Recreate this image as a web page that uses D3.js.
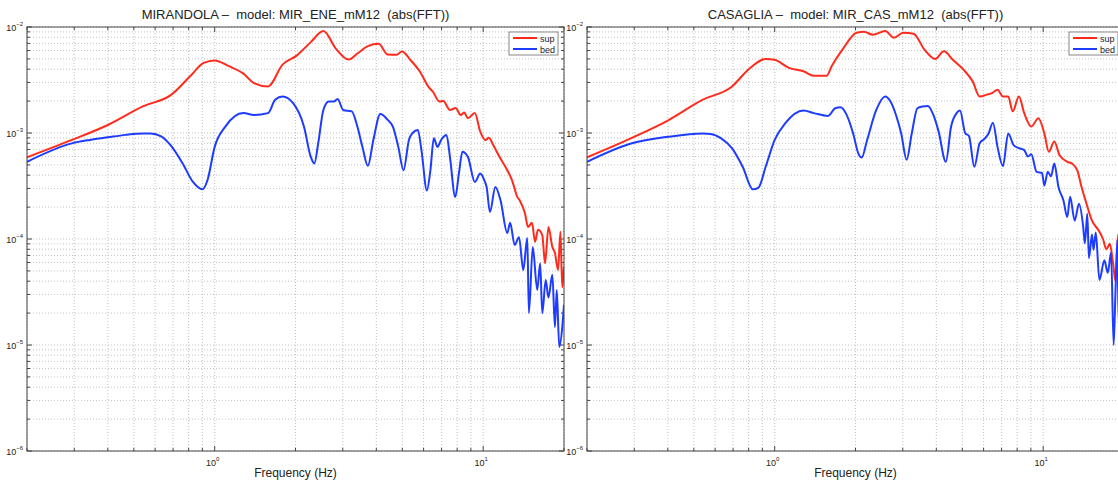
<!DOCTYPE html>
<html>
<head>
<meta charset="utf-8">
<script src="https://cdn.jsdelivr.net/npm/d3@7"></script>
<style>
  body { margin: 0; background: #fff; }
  text { font-family: "Liberation Sans", Arial, sans-serif; fill: #222; }
</style>
</head>
<body>
<svg id="chart"></svg>
<script>
// chart values: [frequency Hz, abs(FFT)]
const panelTitles = ["MIRANDOLA \u2013  model: MIR_ENE_mM12  (abs(FFT))",
                     "CASAGLIA \u2013  model: MIR_CAS_mM12  (abs(FFT))"];
const seriesNames = ["sup", "bed"];
const seriesColors = ["#ff2b1c", "#1e3cff"];
const freqDomain = [0.2, 20];
const ampDomain = [1e-6, 1e-2];
const xTickExps = [0, 1];
const yTickExps = [-2, -3, -4, -5, -6];

const mirandolaSup = [
  [0.2, 5.9e-4], [0.294, 8.6e-4], [0.40, 1.19e-3], [0.54, 1.78e-3], [0.69, 2.3e-3],
  [0.81, 3.43e-3], [0.91, 4.58e-3], [1.0, 4.83e-3], [1.13, 4.27e-3], [1.28, 3.63e-3],
  [1.40, 2.96e-3], [1.58, 2.75e-3], [1.79, 4.42e-3], [2.02, 5.37e-3], [2.28, 7.2e-3],
  [2.54, 9.16e-3], [2.83, 6.22e-3], [3.15, 4.93e-3], [3.40, 5.62e-3], [3.72, 6.6e-3],
  [4.08, 6.95e-3], [4.41, 5.5e-3], [4.76, 5.46e-3], [4.98, 5.88e-3], [5.37, 4.86e-3],
  [5.80, 3.82e-3], [6.26, 2.72e-3], [6.5, 2.45e-3], [6.87, 1.98e-3], [7.1, 2.0e-3],
  [7.52, 1.65e-3], [7.9, 1.72e-3], [8.24, 1.48e-3], [8.5, 1.56e-3], [8.77, 1.38e-3],
  [9.31, 1.54e-3], [9.75, 1.03e-3], [10.2, 8.6e-4], [10.5, 9.0e-4], [10.9, 7.7e-4],
  [11.5, 5.96e-4], [12.3, 4.45e-4], [12.8, 3.6e-4], [13.4, 2.5e-4], [13.7, 2.3e-4],
  [14.3, 1.76e-4], [14.7, 1.3e-4], [15.2, 1.42e-4], [15.6, 9.4e-5], [16.0, 1.22e-4],
  [16.6, 1.09e-4], [17.0, 5.9e-5], [17.5, 1.3e-4], [18.1, 8.4e-5], [18.5, 7.4e-5],
  [19.0, 5.1e-5], [19.4, 1.17e-4], [19.7, 3.5e-5], [20, 5.5e-5]
];
const mirandolaBed = [
  [0.2, 5.35e-4], [0.294, 7.98e-4], [0.343, 8.6e-4], [0.40, 9.1e-4], [0.466, 9.6e-4],
  [0.54, 9.9e-4], [0.577, 9.9e-4], [0.632, 9.3e-4], [0.693, 7.4e-4], [0.76, 5.15e-4],
  [0.83, 3.45e-4], [0.90, 2.94e-4], [0.94, 3.58e-4], [1.0, 7.4e-4], [1.096, 1.15e-3],
  [1.28, 1.54e-3], [1.40, 1.48e-3], [1.58, 1.54e-3], [1.68, 2.06e-3], [1.79, 2.21e-3],
  [1.96, 1.91e-3], [2.15, 1.15e-3], [2.28, 5.96e-4], [2.35, 5.15e-4], [2.43, 8.0e-4],
  [2.54, 1.65e-3], [2.66, 1.98e-3], [2.78, 1.98e-3], [2.87, 2.09e-3], [3.01, 1.65e-3],
  [3.24, 1.6e-3], [3.40, 1.15e-3], [3.55, 7.4e-4], [3.72, 4.9e-4], [3.90, 8.6e-4],
  [4.14, 1.51e-3], [4.41, 1.33e-3], [4.61, 1.15e-3], [4.83, 7.4e-4], [5.05, 4.45e-4],
  [5.29, 8.6e-4], [5.46, 1.0e-3], [5.71, 1.07e-3], [5.89, 6.9e-4], [6.17, 2.87e-4],
  [6.36, 4.45e-4], [6.55, 8.9e-4], [6.76, 7.4e-4], [6.97, 8.6e-4], [7.30, 9.6e-4],
  [7.52, 5.96e-4], [7.87, 2.49e-4], [8.12, 4.14e-4], [8.37, 6.65e-4], [8.77, 5.96e-4],
  [9.31, 3.45e-4], [9.75, 4.14e-4], [10.1, 3.58e-4], [10.3, 3.09e-4], [10.6, 1.8e-4],
  [11.1, 3.1e-4], [11.6, 2.33e-4], [12.3, 1.14e-4], [12.6, 1.42e-4], [13.1, 8.8e-5],
  [13.6, 1.04e-4], [14.1, 5.1e-5], [14.6, 1.02e-4], [14.8, 2.0e-5], [15.3, 8.4e-5],
  [15.9, 3.3e-5], [16.3, 5.9e-5], [16.6, 2.0e-5], [17.1, 4.1e-5], [17.5, 2.8e-5],
  [18.1, 4.6e-5], [18.5, 1.48e-5], [18.8, 3.3e-5], [19.2, 9.6e-6], [19.8, 1.7e-5], [20, 2.4e-5]
];
const casagliaSup = [
  [0.2, 5.9e-4], [0.294, 9.0e-4], [0.40, 1.31e-3], [0.54, 2.06e-3], [0.69, 2.72e-3],
  [0.81, 4.11e-3], [0.926, 5.0e-3], [1.0, 4.9e-3], [1.13, 4.11e-3], [1.28, 3.82e-3],
  [1.40, 3.47e-3], [1.56, 3.47e-3], [1.63, 4.26e-3], [1.79, 6.14e-3], [2.02, 8.84e-3],
  [2.15, 9.0e-3], [2.32, 8.46e-3], [2.58, 9.16e-3], [2.78, 7.92e-3], [3.01, 8.84e-3],
  [3.29, 8.65e-3], [3.61, 6.14e-3], [3.96, 5.0e-3], [4.27, 5.9e-3], [4.61, 4.9e-3],
  [5.05, 3.96e-3], [5.46, 3.07e-3], [5.80, 2.21e-3], [6.17, 2.3e-3], [6.45, 2.38e-3],
  [6.76, 2.56e-3], [7.08, 2.21e-3], [7.41, 2.21e-3], [7.70, 1.6e-3], [8.12, 2.21e-3],
  [8.50, 1.54e-3], [9.03, 1.15e-3], [9.6, 1.38e-3], [10.1, 9.9e-4], [10.5, 6.65e-4],
  [11.0, 8.3e-4], [11.5, 6.2e-4], [12.3, 5.35e-4], [12.8, 5.15e-4], [13.4, 4.45e-4],
  [13.9, 3.09e-4], [14.5, 2.15e-4], [15.2, 1.49e-4], [16.1, 1.2e-4], [16.7, 1.0e-4],
  [17.2, 8.0e-5], [17.7, 9.0e-5], [18.2, 6.0e-5], [18.6, 4.0e-5], [19.0, 1.1e-4], [20, 5.0e-5]
];
const casagliaBed = [
  [0.2, 5.35e-4], [0.294, 8.0e-4], [0.40, 9.2e-4], [0.54, 9.9e-4], [0.577, 9.8e-4],
  [0.632, 8.9e-4], [0.693, 7.2e-4], [0.76, 4.8e-4], [0.83, 2.94e-4], [0.87, 3.05e-4],
  [0.926, 4.8e-4], [1.0, 8.6e-4], [1.096, 1.24e-3], [1.28, 1.63e-3], [1.40, 1.54e-3],
  [1.58, 1.45e-3], [1.68, 1.71e-3], [1.76, 1.75e-3], [1.84, 1.54e-3], [1.96, 9.9e-4],
  [2.05, 6.4e-4], [2.11, 5.87e-4], [2.21, 8.6e-4], [2.39, 1.65e-3], [2.58, 2.21e-3],
  [2.70, 1.98e-3], [2.83, 1.48e-3], [2.96, 9.9e-4], [3.10, 5.6e-4], [3.24, 9.9e-4],
  [3.40, 1.71e-3], [3.55, 1.78e-3], [3.72, 1.8e-3], [3.90, 1.48e-3], [4.08, 1.03e-3],
  [4.34, 5.35e-4], [4.54, 1.15e-3], [4.76, 1.54e-3], [4.90, 1.63e-3], [5.13, 9.9e-4],
  [5.29, 9.4e-4], [5.54, 4.8e-4], [5.80, 8.0e-4], [6.07, 8.9e-4], [6.26, 9.9e-4],
  [6.50, 1.25e-3], [6.76, 7.4e-4], [7.08, 4.87e-4], [7.41, 9.9e-4], [7.76, 7.7e-4],
  [8.12, 7.2e-4], [8.50, 6.9e-4], [8.77, 6.0e-4], [9.03, 6.3e-4], [9.45, 4.3e-4],
  [9.9, 4.2e-4], [10.1, 3.2e-4], [10.4, 4.3e-4], [10.7, 3.9e-4], [11.0, 5.15e-4],
  [11.4, 3.1e-4], [11.9, 2.31e-4], [12.3, 1.61e-4], [12.6, 2.5e-4], [13.1, 1.49e-4],
  [13.6, 2.15e-4], [14.1, 1.29e-4], [14.3, 9.1e-5], [14.6, 1.73e-4], [14.8, 6.6e-5],
  [15.2, 1.1e-4], [15.4, 7.9e-5], [15.7, 1.15e-4], [16.2, 4.1e-5], [16.9, 6.3e-5],
  [17.4, 4.8e-5], [17.9, 7.4e-5], [18.3, 1.0e-5], [18.6, 3.3e-5], [18.9, 9.8e-5],
  [19.1, 1.6e-5], [19.5, 4.5e-5], [20, 3.0e-5]
];

const W = 1118, H = 481;
const marginTop = 27, ph = 424, pw = 537;
const panels = [
  { left: 27, title: panelTitles[0], series: [mirandolaSup, mirandolaBed] },
  { left: 587, title: panelTitles[1], series: [casagliaSup, casagliaBed] }
];

const svg = d3.select("#chart").attr("width", W).attr("height", H);

const x = d3.scaleLog().domain(freqDomain).range([0, pw]);
const y = d3.scaleLog().domain(ampDomain).range([ph, 0]);

const line = d3.line()
  .x(d => x(d[0]))
  .y(d => y(d[1]))
  .curve(d3.curveMonotoneX);

panels.forEach((p, i) => {
  const g = svg.append("g").attr("transform", "translate(" + p.left + "," + marginTop + ")");

  // grid, dotted at every decade step
  g.selectAll(".gx").data(x.ticks()).enter().append("line")
    .attr("x1", d => x(d)).attr("x2", d => x(d))
    .attr("y1", 0).attr("y2", ph)
    .attr("stroke", "#b4b4b4").attr("stroke-width", 0.8).attr("stroke-dasharray", "1,2");
  g.selectAll(".gy").data(y.ticks()).enter().append("line")
    .attr("y1", d => y(d)).attr("y2", d => y(d))
    .attr("x1", 0).attr("x2", pw)
    .attr("stroke", "#b4b4b4").attr("stroke-width", 0.8).attr("stroke-dasharray", "1,2");

  // inward ticks on all four sides
  const isMajor = v => Math.abs(Math.log10(v) - Math.round(Math.log10(v))) < 1e-6;
  x.ticks().forEach(v => {
    const len = isMajor(v) ? 5 : 3;
    g.append("line").attr("x1", x(v)).attr("x2", x(v)).attr("y1", ph).attr("y2", ph - len)
      .attr("stroke", "#444");
    g.append("line").attr("x1", x(v)).attr("x2", x(v)).attr("y1", 0).attr("y2", len)
      .attr("stroke", "#444");
  });
  y.ticks().forEach(v => {
    const len = isMajor(v) ? 5 : 3;
    g.append("line").attr("y1", y(v)).attr("y2", y(v)).attr("x1", 0).attr("x2", len)
      .attr("stroke", "#444");
    g.append("line").attr("y1", y(v)).attr("y2", y(v)).attr("x1", pw).attr("x2", pw - len)
      .attr("stroke", "#444");
  });

  // curves
  const clipId = "clip" + i;
  g.append("clipPath").attr("id", clipId)
    .append("rect").attr("width", pw).attr("height", ph);
  p.series.forEach((s, k) => {
    g.append("path").datum(s)
      .attr("clip-path", "url(#" + clipId + ")")
      .attr("fill", "none")
      .attr("stroke", seriesColors[k])
      .attr("stroke-width", 2)
      .attr("stroke-linejoin", "round")
      .attr("d", line);
  });

  // box
  g.append("rect").attr("width", pw).attr("height", ph)
    .attr("fill", "none").attr("stroke", "#444").attr("stroke-width", 1);

  // y tick labels 10^n
  yTickExps.forEach(e => {
    const t = g.append("text")
      .attr("x", -4).attr("y", y(Math.pow(10, e)) + 4)
      .attr("text-anchor", "end").style("font-size", "9px");
    t.append("tspan").text("10");
    t.append("tspan").attr("dy", -5).style("font-size", "6px").text("\u2212" + (-e));
  });

  // x tick labels
  xTickExps.forEach(e => {
    const t = g.append("text")
      .attr("x", x(Math.pow(10, e)) - 2).attr("y", ph + 15)
      .attr("text-anchor", "middle").style("font-size", "9px");
    t.append("tspan").text("10");
    t.append("tspan").attr("dy", -5).style("font-size", "6px").text(e);
  });

  // titles
  g.append("text")
    .attr("x", pw / 2).attr("y", -8)
    .attr("text-anchor", "middle")
    .style("font-size", "13px").style("white-space", "pre")
    .text(p.title);
  g.append("text")
    .attr("x", pw / 2).attr("y", ph + 26)
    .attr("text-anchor", "middle")
    .style("font-size", "12px")
    .text("Frequency (Hz)");

  // legend
  const lg = g.append("g").attr("transform", "translate(" + (pw - 55) + ",5)");
  lg.append("rect").attr("width", 49).attr("height", 23)
    .attr("fill", "#fff").attr("stroke", "#888").attr("stroke-width", 1);
  seriesNames.forEach((n, k) => {
    lg.append("line").attr("x1", 4).attr("x2", 28)
      .attr("y1", 6 + k * 11).attr("y2", 6 + k * 11)
      .attr("stroke", seriesColors[k]).attr("stroke-width", 2);
    lg.append("text").attr("x", 31).attr("y", 9.5 + k * 11)
      .style("font-size", "9px").text(n);
  });
});
</script>
</body>
</html>
